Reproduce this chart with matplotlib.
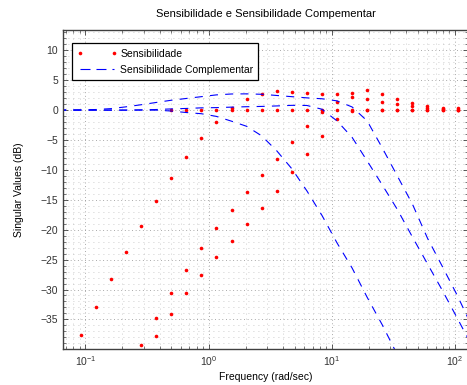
import numpy as np
import matplotlib
matplotlib.use("Agg")
import matplotlib.pyplot as plt
from matplotlib.ticker import LogLocator, MultipleLocator, NullFormatter
from matplotlib.lines import Line2D

plt.rcParams['font.family'] = ['Liberation Sans', 'DejaVu Sans']
plt.rcParams['mathtext.fontset'] = 'custom'
plt.rcParams['mathtext.rm'] = 'Liberation Sans'
plt.rcParams['mathtext.default'] = 'regular'
plt.rcParams['lines.scale_dashes'] = False

nan = np.nan

# frequency points (rad/sec) of the sensitivity dots
freq = [0.0918, 0.1216, 0.1612, 0.2137, 0.2833, 0.3755, 0.4977, 0.6597, 0.8746,
        1.159, 1.537, 2.037, 2.701, 3.580, 4.746, 6.291, 8.337, 11.05, 14.65,
        19.42, 25.74, 34.12, 45.23, 59.96, 79.48, 105.4]

# sensitivity singular values (dB)
s_low = [-37.65, -32.87, -28.24, -23.70, -19.33, -15.23, -11.36, -7.83, -4.64,
         -2.02, 0.30, 1.80, 2.76, 3.19, 3.09, 2.81, 2.64, 2.76, 2.18,
         1.92, 1.41, 0.96, 0.67, 0.37, 0.17, 0.07]
s_mid = [nan, nan, nan, nan, -39.33, -34.84, -30.64, -26.66, -23.03,
         -19.71, -16.64, -13.71, -10.92, -8.17, -5.26, -2.62, -0.34, 1.41, 2.92,
         3.31, 2.64, 1.80, 1.13, 0.67, 0.40, 0.29]
s_high = [nan, nan, nan, nan, nan, -37.75, -34.05, -30.64, -27.56,
          -24.64, -21.85, -19.09, -16.35, -13.45, -10.42, -7.33, -4.25, -1.56, -0.22,
          0.0, 0.0, 0.0, 0.0, 0.0, 0.0, 0.0]
# the flat 0 dB dots, only visible from ~0.5 rad/sec (hidden under the dashes before)
s_flat = [nan, nan, nan, nan, nan, nan, 0.0, 0.0, 0.0,
          0.0, 0.0, 0.0, 0.0, 0.0, 0.0, 0.0, 0.0, 0.0, 0.0,
          0.0, 0.0, 0.0, 0.0, 0.0, 0.0, 0.0]

# complementary sensitivity (dB), same grid plus the plot edges
freq_t = [0.06] + freq + [140.0]
t_low = [0.0, 0.0, 0.0, 0.0, 0.0, 0.0, 0.0, -0.15, -0.4, -0.6,
         -1.05, -1.85, -2.7, -4.3, -6.8, -9.8, -13.5, -17.6, -22.2, -26.4,
         -31.3, -35.9, -40.9, -45.6, nan, nan, nan, nan]
t_mid = [0.0, 0.0, 0.0, 0.0, 0.0, 0.05, 0.1, 0.2, 0.28, 0.38,
         0.42, 0.5, 0.57, 0.62, 0.7, 0.8, 0.78, 0.15, -1.8, -4.55,
         -8.5, -12.5, -16.6, -21.2, -25.7, -30.2, -34.9, -39.7]
t_high = [0.0, 0.05, 0.1, 0.25, 0.55, 0.9, 1.28, 1.65, 1.95, 2.25,
          2.55, 2.7, 2.72, 2.65, 2.45, 2.25, 2.05, 1.9, 1.55, 0.53,
          -1.8, -6.3, -11.0, -15.7, -21.4, -26.2, -31.1, -36.5]

fig = plt.figure(figsize=(4.67, 3.85), dpi=100)
ax = fig.add_axes([63 / 467, 36 / 385, 405 / 467, 319 / 385])

# red dots first so the dashed lines sit on top
for s in [s_flat, s_low, s_mid, s_high]:
    ax.plot(freq, s, ls='none', marker='o', ms=2.6, mew=0, color='red')

dash = (5.8, 5.2)
for t in [t_low, t_mid, t_high]:
    ax.plot(freq_t, t, color='blue', lw=0.8, dashes=dash)

ax.set_xscale('log')
ax.set_xlim(0.0658, 128)
ax.set_ylim(-39.95, 13.4)
ax.yaxis.set_major_locator(MultipleLocator(5))
ax.yaxis.set_minor_locator(MultipleLocator(1))
ax.xaxis.set_major_locator(LogLocator(base=10))
ax.xaxis.set_minor_locator(LogLocator(base=10, subs=np.arange(2, 10)))
ax.xaxis.set_minor_formatter(NullFormatter())

# dotted matlab-like grid
ax.grid(True, which='major', color='#8c8c8c', lw=0.6, dashes=(0.6, 2.0))
ax.grid(True, which='minor', color='#b8b8b8', lw=0.55, dashes=(0.6, 3.0))
ax.set_axisbelow(True)

ax.tick_params(which='both', direction='in', top=True, right=True,
               labelsize=7.5, colors='#404040', labelcolor='#333333')
ax.tick_params(which='major', length=3.5, width=0.6)
ax.tick_params(which='minor', length=2, width=0.5)
for sp in ax.spines.values():
    sp.set_color('#404040')
    sp.set_linewidth(1.0)

ax.set_title('Sensibilidade e Sensibilidade Compementar', fontsize=8, pad=9.5)
ax.set_xlabel('Frequency (rad/sec)', fontsize=7.5, labelpad=3)
ax.set_ylabel('Singular Values (dB)', fontsize=7.5, labelpad=12)

handles = [Line2D([], [], ls='none', marker='o', ms=2.6, mew=0, color='red'),
           Line2D([], [], color='blue', lw=0.8, dashes=(7.2, 4.3))]
leg = ax.legend(handles, ['Sensibilidade', 'Sensibilidade Complementar'],
                loc='upper left', bbox_to_anchor=(0.0215, 0.958), borderaxespad=0,
                numpoints=2, handlelength=3.9, handletextpad=0.25, fontsize=7.5,
                fancybox=False, framealpha=1, edgecolor='black',
                borderpad=0.5, labelspacing=0.6)
leg.get_frame().set_linewidth(0.9)

fig.savefig('out.png', dpi=100)
